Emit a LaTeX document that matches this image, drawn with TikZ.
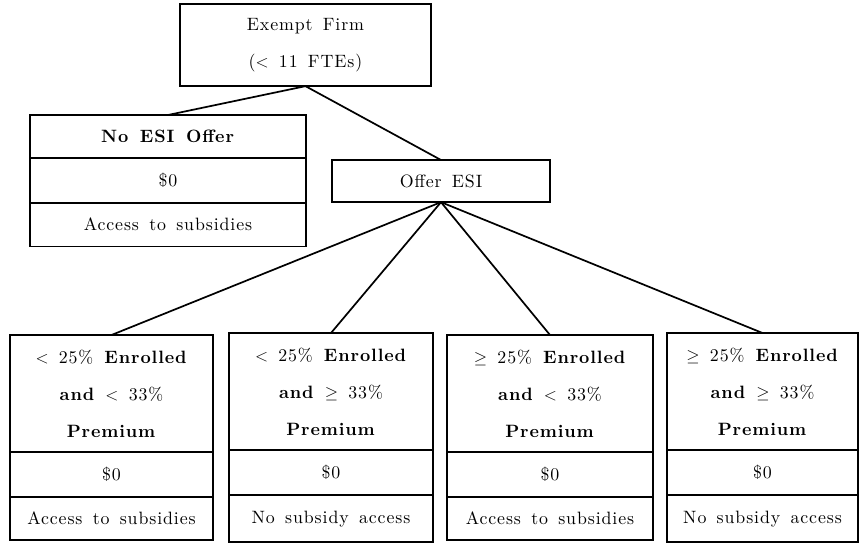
\documentclass[tikz,border=0pt]{standalone}
\usepackage{amsmath,amssymb}
\usepackage{fontspec}
\setmainfont{lmroman10-regular.otf}[BoldFont=lmroman10-bold.otf, LetterSpace=5, WordSpace=1.5]
\usetikzlibrary{positioning}

\begin{document}
\begin{tikzpicture}[
    x=0.7pt, y=-0.7pt,
    node distance=0pt,
    cell/.style={draw, line width=1.3pt, outer sep=0pt, inner sep=2pt, align=center, font=\fontsize{12.5}{26}\selectfont},
    head/.style={cell, minimum height=82pt},
    row/.style={cell, minimum height=31.5pt},
    link/.style={line width=1.2pt},
]
\useasboundingbox (0,0) rectangle (859,543);

% Exempt firm and its two choices
\node[cell, minimum width=176pt, minimum height=57.5pt, anchor=north] at (305.5,4) (firm) {Exempt Firm\\($<$ 11 FTEs)};
\node[cell, minimum width=153pt, minimum height=29.5pt, anchor=north] at (441,160) (offer) {Offer ESI};

% No ESI offer
\node[cell, minimum width=193pt, minimum height=30pt, anchor=north] at (168,115) (noesi) {\textbf{No ESI Offer}};
\node[row, minimum width=193pt, below=of noesi] (noesi-cost) {\$0};
\node[row, minimum width=193pt, minimum height=30.5pt, below=of noesi-cost] (noesi-sub) {Access to subsidies};

% < 25% enrolled, < 33% premium
\node[head, minimum width=142pt, anchor=north] at (111.5,335) (lolo) {$<$ 25\% \textbf{Enrolled}\\\textbf{and} $<$ 33\%\\\textbf{Premium}};
\node[row, minimum width=142pt, below=of lolo] (lolo-cost) {\$0};
\node[row, minimum width=142pt, minimum height=30pt, below=of lolo-cost] (lolo-sub) {Access to subsidies};

% < 25% enrolled, >= 33% premium
\node[head, minimum width=143pt, anchor=north] at (331,333) (lohi) {$<$ 25\% \textbf{Enrolled}\\\textbf{and} $\geq$ 33\%\\\textbf{Premium}};
\node[row, minimum width=143pt, below=of lohi] (lohi-cost) {\$0};
\node[row, minimum width=143pt, minimum height=33pt, below=of lohi-cost] (lohi-sub) {No subsidy access};

% >= 25% enrolled, < 33% premium
\node[head, minimum width=144pt, anchor=north] at (550,335) (hilo) {$\geq$ 25\% \textbf{Enrolled}\\\textbf{and} $<$ 33\%\\\textbf{Premium}};
\node[row, minimum width=144pt, below=of hilo] (hilo-cost) {\$0};
\node[row, minimum width=144pt, minimum height=30pt, below=of hilo-cost] (hilo-sub) {Access to subsidies};

% >= 25% enrolled, >= 33% premium
\node[head, minimum width=134pt, anchor=north] at (762.5,333) (hihi) {$\geq$ 25\% \textbf{Enrolled}\\\textbf{and} $\geq$ 33\%\\\textbf{Premium}};
\node[row, minimum width=134pt, below=of hihi] (hihi-cost) {\$0};
\node[row, minimum width=134pt, minimum height=33pt, below=of hihi-cost] (hihi-sub) {No subsidy access};

% branches
\draw[link] (firm.south) -- (noesi.north);
\draw[link] (firm.south) -- (offer.north);
\draw[link] (offer.south) -- (lolo.north);
\draw[link] (offer.south) -- (lohi.north);
\draw[link] (offer.south) -- (hilo.north);
\draw[link] (offer.south) -- (hihi.north);

\end{tikzpicture}
\end{document}
